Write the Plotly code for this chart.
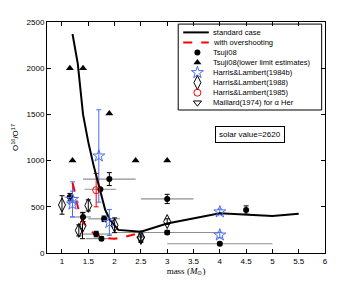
import plotly.graph_objects as go

# standard case model
std_mass = [1.2, 1.3, 1.4, 1.5, 1.6, 1.72, 1.82, 1.91, 2.07, 2.5, 3.0, 4.0, 4.5, 5.0, 5.5]
std_ratio = [2370, 2050, 1500, 1200, 950, 700, 470, 360, 250, 230, 320, 430, 415, 400, 425]
# with overshooting
ovs_mass = [1.2, 1.25, 1.3, 1.4, 1.5, 1.6, 1.8, 2.0, 2.2, 2.5]
ovs_ratio = [760, 650, 500, 330, 270, 215, 165, 155, 175, 220]

# Tsuji08
ts_mass = [1.15, 1.4, 1.65, 1.75, 1.73, 1.9, 1.8, 3.0, 3.0, 4.0, 4.5]
ts_ratio = [605, 390, 205, 155, 690, 800, 370, 585, 222, 100, 465]
ts_xerr = [0.1, 0.15, 0.3, 0.3, 0.3, 0.5, 0.3, 0.5, 1.0, 1.0, 0.0]
ts_yerr = [40, 50, 30, 20, 0, 70, 30, 50, 20, 15, 45]
# Tsuji08 lower limits
tl_mass = [1.15, 1.4, 1.9, 1.2, 2.4, 3.0]
tl_ratio = [2000, 2000, 1510, 1000, 1000, 1000]
# Harris & Lambert 1984b
hl84_mass = [1.2, 1.2, 1.7, 1.9, 4.0, 4.0]
hl84_ratio = [580, 530, 1050, 330, 445, 195]
hl84_err = [190, 140, 500, 140, 30, 30]
# Harris & Lambert 1988
hl88_mass = [1.0, 1.32, 1.39, 1.5, 2.0, 2.5, 3.0]
hl88_ratio = [520, 245, 295, 515, 300, 168, 340]
hl88_err = [100, 60, 140, 60, 80, 40, 30]
# Harris & Lambert 1985
hl85_mass = [1.65]
hl85_ratio = [680]
hl85_err = [180]
# Maillard 1974 alpha Her
ma_mass = [2.5]
ma_ratio = [155]
ma_err = [40]

xticks = [1, 1.5, 2, 2.5, 3, 3.5, 4, 4.5, 5, 5.5, 6]
yticks = [0, 500, 1000, 1500, 2000, 2500]

legend_labels = ["standard case", "with overshooting", "Tsuji08",
                 "Tsuji08(lower limit estimates)", "Harris&Lambert(1984b)",
                 "Harris&Lambert(1988)", "Harris&Lambert(1985)", "Maillard(1974) for α Her"]

BLUE = "#4a6cf0"
fig = go.Figure()

# error-bar-only traces
fig.add_trace(go.Scatter(x=ts_mass, y=ts_ratio, mode="markers", showlegend=False,
                         marker=dict(opacity=0),
                         error_x=dict(type="data", array=ts_xerr, color="#8f8f8f", thickness=1.2, width=0),
                         error_y=dict(type="data", array=ts_yerr, color="black", thickness=1, width=2.5),
                         hoverinfo="skip"))
fig.add_trace(go.Scatter(x=hl84_mass, y=hl84_ratio, mode="markers", showlegend=False,
                         marker=dict(opacity=0),
                         error_y=dict(type="data", array=hl84_err, color=BLUE, thickness=1, width=2.5),
                         hoverinfo="skip"))
fig.add_trace(go.Scatter(x=hl88_mass, y=hl88_ratio, mode="markers", showlegend=False,
                         marker=dict(opacity=0),
                         error_y=dict(type="data", array=hl88_err, color="black", thickness=1, width=2.5),
                         hoverinfo="skip"))
fig.add_trace(go.Scatter(x=hl85_mass, y=hl85_ratio, mode="markers", showlegend=False,
                         marker=dict(opacity=0),
                         error_y=dict(type="data", array=hl85_err, color="red", thickness=1, width=2.5),
                         hoverinfo="skip"))
fig.add_trace(go.Scatter(x=ma_mass, y=ma_ratio, mode="markers", showlegend=False,
                         marker=dict(opacity=0),
                         error_y=dict(type="data", array=ma_err, color="black", thickness=1, width=2.5),
                         hoverinfo="skip"))

line_styles = [dict(color="black", width=2), dict(color="red", width=2, dash="dash")]
marker_styles = [
    dict(symbol="circle", color="black", size=6),
    dict(symbol="triangle-up", color="black", size=7),
    dict(symbol="star-open", color=BLUE, size=9, line=dict(width=1)),
    dict(symbol="diamond-tall-open", color="black", size=10, line=dict(width=1)),
    dict(symbol="circle-open", color="red", size=7, line=dict(width=1)),
    dict(symbol="triangle-down-open", color="black", size=7, line=dict(width=1)),
]

fig.add_trace(go.Scatter(x=std_mass, y=std_ratio, mode="lines", showlegend=False, line=line_styles[0]))
fig.add_trace(go.Scatter(x=ovs_mass, y=ovs_ratio, mode="lines", showlegend=False, line=line_styles[1]))
for xs, ys, ms in zip([ts_mass, tl_mass, hl84_mass, hl88_mass, hl85_mass, ma_mass],
                      [ts_ratio, tl_ratio, hl84_ratio, hl88_ratio, hl85_ratio, ma_ratio],
                      marker_styles):
    fig.add_trace(go.Scatter(x=xs, y=ys, mode="markers", showlegend=False, marker=ms))

# manual compact legend on an overlay axis spanning [0,1]
lx0, lx1 = 0.472, 0.988
ly0, ly1 = 0.619, 0.991
row_y = [0.955 - 0.0435 * i for i in range(len(legend_labels))]
samp_x0, samp_x1, samp_xc, text_x = 0.49, 0.582, 0.541, 0.59

fig.add_shape(type="rect", xref="paper", yref="paper", x0=lx0, x1=lx1, y0=ly0, y1=ly1,
              line=dict(color="black", width=1), fillcolor="white", layer="below")
for i in range(2):
    fig.add_trace(go.Scatter(x=[samp_x0, samp_x1], y=[row_y[i], row_y[i]], mode="lines",
                             xaxis="x2", yaxis="y2", showlegend=False, line=line_styles[i],
                             hoverinfo="skip"))
for i, ms in enumerate(marker_styles):
    fig.add_trace(go.Scatter(x=[samp_xc], y=[row_y[i + 2]], mode="markers",
                             xaxis="x2", yaxis="y2", showlegend=False, marker=ms,
                             hoverinfo="skip"))

annotations = [dict(text=lab, xref="paper", yref="paper", x=text_x, y=row_y[i],
                    xanchor="left", yanchor="middle", showarrow=False, font=dict(size=7.6))
               for i, lab in enumerate(legend_labels)]
annotations.append(dict(text="solar value=2620", xref="paper", yref="paper", x=0.856, y=0.515,
                        showarrow=False, bordercolor="black", borderwidth=1, borderpad=3,
                        bgcolor="white", font=dict(size=8)))

axis_common = dict(showline=True, linecolor="black", linewidth=1, mirror="ticks",
                   ticks="inside", ticklen=4, tickcolor="black", showgrid=False, zeroline=False,
                   tickfont=dict(size=8, color="black"), automargin=False)

fig.update_layout(
    width=351, height=277,
    margin=dict(l=39, r=34, t=14, b=32),
    paper_bgcolor="white", plot_bgcolor="white",
    showlegend=False,
    font=dict(family="Liberation Sans, Arial, sans-serif", size=8, color="black"),
    xaxis=dict(range=[0.715, 6], tickvals=xticks, ticktext=[str(t) for t in xticks],
               title=dict(text="mass (<i>M</i><sub>⊙</sub>)", font=dict(family="Liberation Serif, serif", size=9), standoff=2),
               **axis_common),
    yaxis=dict(range=[0, 2500], tickvals=yticks,
               title=dict(text="O<sup>16</sup>/O<sup>17</sup>", font=dict(size=8), standoff=6),
               **axis_common),
    xaxis2=dict(range=[0, 1], overlaying="x", visible=False, fixedrange=True),
    yaxis2=dict(range=[0, 1], overlaying="y", visible=False, fixedrange=True),
    annotations=annotations,
)

fig.write_html("out.html")
